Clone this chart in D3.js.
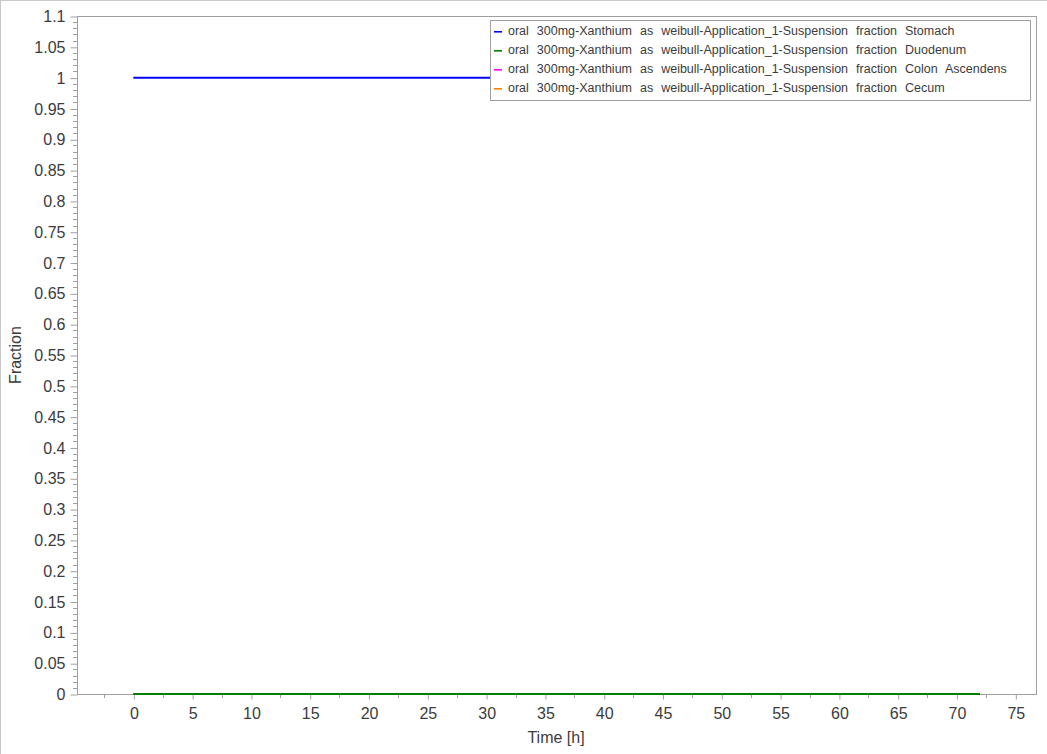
<!DOCTYPE html>
<html><head><meta charset="utf-8">
<script src="https://cdn.jsdelivr.net/npm/d3@7"></script>
<style>body{margin:0;background:#fff;}svg{display:block;font-family:"Liberation Sans",Arial,sans-serif;}</style>
</head><body><svg id="c" width="1047" height="754"></svg>
<script>
const seriesNames = [
  "oral 300mg-Xanthium as weibull-Application_1-Suspension fraction Stomach",
  "oral 300mg-Xanthium as weibull-Application_1-Suspension fraction Duodenum",
  "oral 300mg-Xanthium as weibull-Application_1-Suspension fraction Colon Ascendens",
  "oral 300mg-Xanthium as weibull-Application_1-Suspension fraction Cecum"
];
const seriesColors = ["#0000ff", "#008000", "#ff00ff", "#ff8000"];
const timeValues = [0, 72];
const stomachValues = [1, 1];
const duodenumValues = [0, 0];
const colonValues = [0, 0];
const cecumValues = [0, 0];
const xTicks = [0,5,10,15,20,25,30,35,40,45,50,55,60,65,70,75];
const yTicks = d3.range(0, 23).map(i => +(i*0.05).toFixed(2));

const svg = d3.select("#c");
const L = 77, R = 1036, T = 16, B = 694;
const x = d3.scaleLinear().domain([-4.79, 76.76]).range([L, R]);
const y = d3.scaleLinear().domain([0, 1.1]).range([B, T]);
const axisCol = "#a0a0a0", textCol = "#3c3c3c";

// outer border (top/left)
svg.append("line").attr("x1",0).attr("x2",1047).attr("y1",0.5).attr("y2",0.5).attr("stroke","#c8c8c8");
svg.append("line").attr("x1",0.5).attr("x2",0.5).attr("y1",0).attr("y2",754).attr("stroke","#c8c8c8");

// plot frame
svg.append("rect").attr("x",L+0.5).attr("y",T+0.5).attr("width",R-L).attr("height",B-T)
  .attr("fill","none").attr("stroke",axisCol);

// x axis
const xAxis = d3.axisBottom(x).tickValues(xTicks).tickSize(5).tickSizeOuter(0).tickFormat(d3.format("d"));
const gx = svg.append("g").attr("transform",`translate(0.5,${B+0.5})`).call(xAxis);
gx.select(".domain").remove();
gx.selectAll(".tick line").attr("stroke",axisCol);
gx.selectAll(".tick text").attr("fill",textCol).attr("font-size",16).attr("dy","1.05em");
// x minor ticks
const xMinor = d3.range(-2.5, 76, 5);
svg.append("g").selectAll("line").data(xMinor).join("line")
  .attr("x1",d=>Math.round(x(d))+0.5).attr("x2",d=>Math.round(x(d))+0.5)
  .attr("y1",B).attr("y2",B+4).attr("stroke",axisCol);

// y axis
const yAxis = d3.axisLeft(y).tickValues(yTicks).tickSize(7).tickSizeOuter(0).tickFormat(d=>String(d));
const gy = svg.append("g").attr("transform",`translate(${L+0.5},0.5)`).call(yAxis);
gy.select(".domain").remove();
gy.selectAll(".tick line").attr("stroke",axisCol);
gy.selectAll(".tick text").attr("fill",textCol).attr("font-size",16).attr("x",-12);
// y minor ticks
const yMinor = d3.range(0, 111).filter(i => i % 5 !== 0).map(i => i/100);
svg.append("g").selectAll("line").data(yMinor).join("line")
  .attr("x1",L-4).attr("x2",L)
  .attr("y1",d=>Math.round(y(d))+0.5).attr("y2",d=>Math.round(y(d))+0.5).attr("stroke",axisCol);

// axis titles
svg.append("text").attr("x",556).attr("y",743).attr("text-anchor","middle")
  .attr("fill",textCol).attr("font-size",16).text("Time [h]");
svg.append("text").attr("transform","translate(21,355) rotate(-90)").attr("text-anchor","middle")
  .attr("fill",textCol).attr("font-size",16).text("Fraction");

// lines
const seriesVals = [stomachValues, duodenumValues, colonValues, cecumValues];
const line = d3.line().x((d,i)=>x(timeValues[i])).y(d=>y(d));
const drawOrder = [3,2,0,1];
drawOrder.forEach(si => {
  svg.append("path").datum(seriesVals[si]).attr("d",line)
    .attr("fill","none").attr("stroke",seriesColors[si]).attr("stroke-width",2);
});

// legend
const lg = svg.append("g");
lg.append("rect").attr("x",490.5).attr("y",20.5).attr("width",540).attr("height",80)
  .attr("fill","#fff").attr("stroke","#a0a0a0");
seriesNames.forEach((n,i) => {
  const yy = 31 + i*19;
  lg.append("rect").attr("x",494).attr("y",yy).attr("width",8).attr("height",1.6)
    .attr("fill",seriesColors[i]);
  lg.append("text").attr("x",508).attr("y",yy).attr("dy","0.35em")
    .attr("fill",textCol).attr("font-size",12.5).attr("word-spacing","4.5px").text(n);
});
</script></body></html>
